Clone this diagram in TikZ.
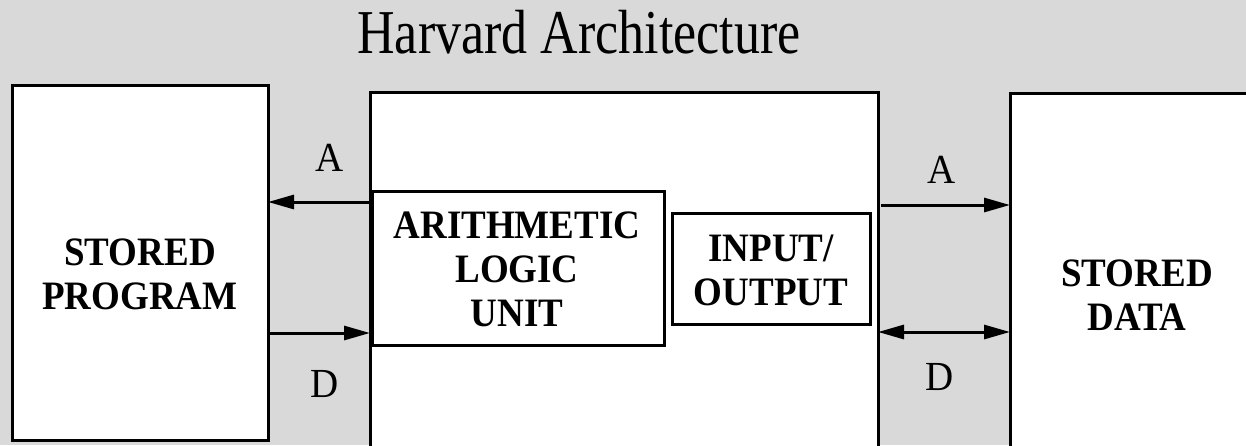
\documentclass[tikz,border=0pt]{standalone}
\usepackage{fontspec}
\usepackage{graphicx}
\setmainfont{Liberation Serif}
\usetikzlibrary{arrows.meta}
% block caption: bold, slightly tall lettering, centred lines
\newcommand{\blocktext}[1]{\scalebox{1}[1.09]{\fontsize{37}{40.4}\selectfont\bfseries
  \begin{tabular}{@{}c@{}}#1\end{tabular}}}
\newcommand{\bustext}[1]{\scalebox{1}[1.06]{\fontsize{39}{44}\selectfont #1}}
\tikzset{
  unit/.style={draw=black, line width=3pt, fill=white, inner sep=0pt, outer sep=0pt},
  caption/.style={inner sep=0pt},
  buslabel/.style={inner sep=0pt},
  bus/.style={line width=3pt, -{Triangle[length=26pt,width=14pt]}},
  bibus/.style={line width=3pt, {Triangle[length=26pt,width=14pt]}-{Triangle[length=26pt,width=14pt]}}
}
\begin{document}
\begin{tikzpicture}[x=1pt, y=-1pt]
  \useasboundingbox (0,0) rectangle (1246,445);
  \fill[gray!30] (0,0) rectangle (1246,445);
  \clip (0,0) rectangle (1246,445);

  % title
  \node[anchor=base, inner sep=0pt] (title) at (579,53)
    {\scalebox{1}[1.2]{\fontsize{52}{60}\selectfont Harvard Architecture}};

  % memories and processor
  \node[unit, minimum width=256pt, minimum height=355pt] (prog) at (140,262.5) {};
  \node[caption] (progtxt) at (140,279) {\blocktext{STORED\\PROGRAM}};
  \node[unit, minimum width=508pt, minimum height=380pt] (cpu) at (624,282) {};
  \node[unit, minimum width=260pt, minimum height=380pt, anchor=north west] (data) at (1010,93) {};
  \node[caption] (datatxt) at (1137,300) {\blocktext{STORED\\DATA}};

  % units inside the processor
  \node[unit, minimum width=292pt, minimum height=154pt] (alu) at (518,268) {};
  \node[caption] (alutxt) at (517,274) {\blocktext{ARITHMETIC\\LOGIC\\UNIT}};
  \node[unit, minimum width=198pt, minimum height=111pt] (io) at (771,268.5) {};
  \node[caption] (iotxt) at (771,275) {\blocktext{INPUT/\\OUTPUT}};

  % bus heights
  \coordinate (pa) at (0,202);
  \coordinate (pd) at (0,333);
  \coordinate (da) at (0,205);
  \coordinate (dd) at (0,332);

  % program memory buses
  \draw[bus] (cpu.west |- pa) -- (prog.east |- pa);
  \draw[bus] (prog.east |- pd) -- (cpu.west |- pd);
  % data memory buses
  \draw[bus] ([xshift=3pt]cpu.east |- da) -- (data.west |- da);
  \draw[bibus] (cpu.east |- dd) -- (data.west |- dd);

  % bus labels
  \node[buslabel] (la1) at (330,158) {\bustext{A}};
  \node[buslabel] (ld1) at (325,384) {\bustext{D}};
  \node[buslabel] (la2) at (942,170) {\bustext{A}};
  \node[buslabel] (ld2) at (940,377) {\bustext{D}};
\end{tikzpicture}
\end{document}
